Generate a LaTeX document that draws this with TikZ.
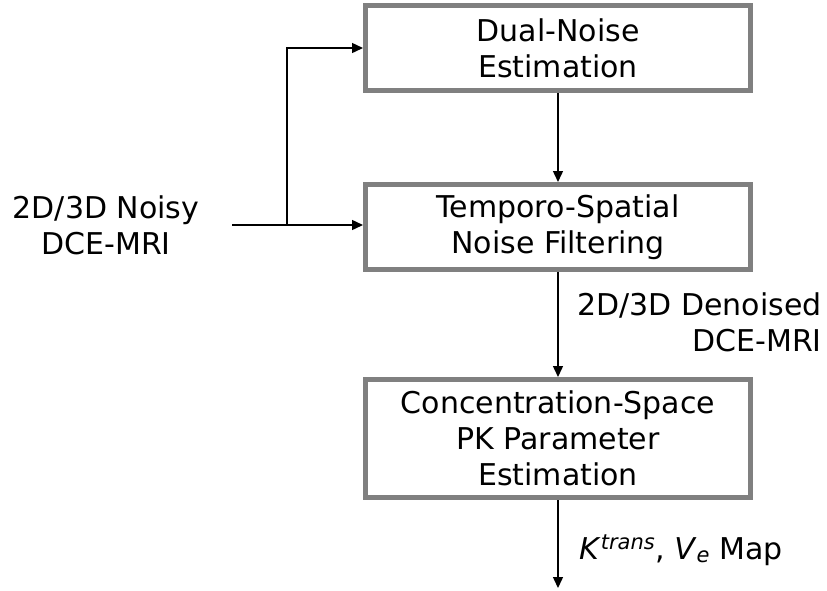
\documentclass[tikz,border=0pt]{standalone}
\usepackage{fontspec}
\setmainfont{DejaVu Sans}
\usepackage{tikz}
\usetikzlibrary{arrows.meta}
\definecolor{boxgray}{RGB}{128,128,128}

\begin{document}
\begin{tikzpicture}[x=1pt, y=-1pt,
    stagebox/.style={draw=boxgray, line width=5pt, rectangle, align=center,
        minimum width=385pt, inner sep=0pt, font=\fontsize{30}{36}\selectfont},
    lbl/.style={inner sep=0pt, font=\fontsize{30}{36}\selectfont},
    flow/.style={-{Triangle[length=11pt,width=10pt]}, line width=1.4pt}]
    \useasboundingbox (0,0) rectangle (827,590);

    % Dual-Noise Estimation
    \node[stagebox, minimum height=85pt] (est) at (558,48) {Dual-Noise\\Estimation};

    % Temporo-Spatial Noise Filtering
    \node[stagebox, minimum height=85pt] (filt) at (558,227) {Temporo-Spatial\\Noise Filtering};

    % Concentration-Space PK Parameter Estimation
    \node[stagebox, minimum height=118pt] (pk) at (558,438.5) {Concentration-Space\\PK Parameter\\Estimation};

    % Input and output
    \node[lbl, align=center] (noisy) at (106,225) {2D/3D Noisy\\DCE-MRI};
    \node[lbl, align=right, anchor=east] (denoised) at (822,322) {2D/3D Denoised\\DCE-MRI};
    \node[lbl, anchor=base west] (maps) at (579,559) {\textit{K}\textsuperscript{\textit{trans}}, \textit{V}\textsubscript{\textit{e}} Map};
    \coordinate (in) at (232,225);
    \coordinate (split) at (287,225);
    \coordinate (out) at (558,588);

    % Arrows
    \draw[flow] (in) -- (in -| filt.west);
    \draw[flow] (split) |- (est.west);
    \draw[flow] (est) -- (filt);
    \draw[flow] (filt) -- (pk);
    \draw[flow] (pk) -- (out);
\end{tikzpicture}
\end{document}
